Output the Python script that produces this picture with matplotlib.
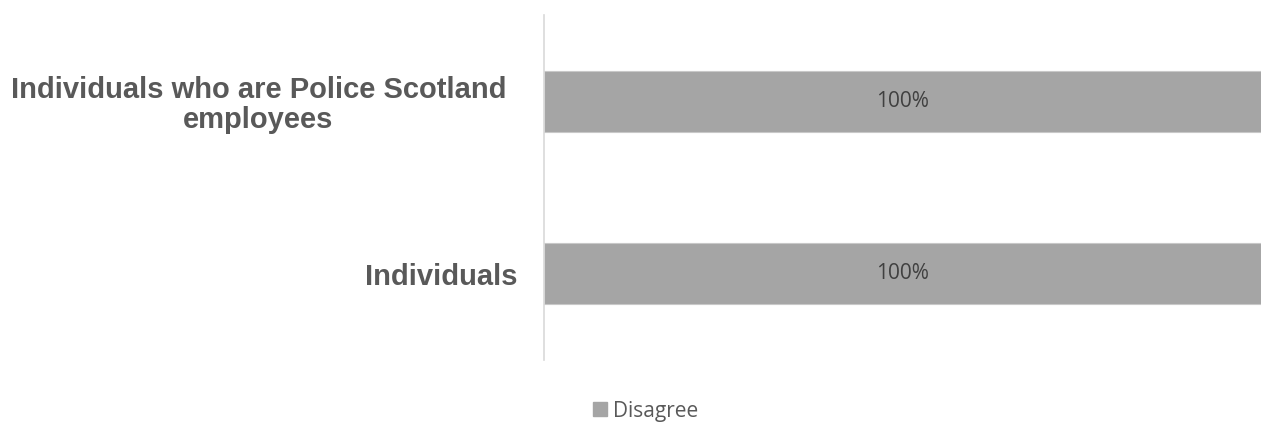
import matplotlib
matplotlib.use("Agg")
import matplotlib.pyplot as plt
import matplotlib.transforms as mtransforms
from matplotlib.patches import Patch

categories = ["Individuals", "Individuals who are Police Scotland\nemployees"]
disagree = [100, 100]
series_name = "Disagree"

fig = plt.figure(figsize=(12.63, 4.23), dpi=100)
ax = fig.add_axes([543.5 / 1263, 1 - 360 / 423, (1261 - 543.5) / 1263, 345 / 423])

ypos = list(range(len(categories)))
bars = ax.barh(ypos, disagree, height=0.355, color="#A5A5A5", edgecolor="#C8C8C8", linewidth=0.8)
ax.set_xlim(0, 100)
ax.set_ylim(-0.5, len(categories) - 0.5)

for rect, v in zip(bars, disagree):
    ax.text(rect.get_x() + rect.get_width() / 2, rect.get_y() + rect.get_height() / 2,
            f"{v}%", ha="center", va="center", color="#404040", fontsize=15,
            family="Open Sans")

ax.set_yticks(ypos)
ax.set_yticklabels(categories, fontsize=21, fontweight="bold", color="#595959",
                   family="Liberation Sans", multialignment="center", linespacing=1.1)
ax.tick_params(axis="y", length=0, pad=19)
ax.tick_params(axis="x", bottom=False, labelbottom=False)
for s in ["top", "right", "bottom"]:
    ax.spines[s].set_visible(False)
ax.spines["left"].set_color("#D9D9D9")
ax.spines["left"].set_linewidth(1.2)

# shift the wrapped label slightly left like the original
lbl = ax.get_yticklabels()[1]
lbl.set_transform(lbl.get_transform() + mtransforms.ScaledTranslation(-11 / 100, 0, fig.dpi_scale_trans))

handles = [Patch(facecolor="#A5A5A5", edgecolor="#A5A5A5", label=series_name)]
fig.legend(handles=handles, loc="center", bbox_to_anchor=(646 / 1263, 1 - 411 / 423),
           frameon=False, prop={"family": "Open Sans", "size": 15},
           labelcolor="#595959", handlelength=0.65, handleheight=0.65, handletextpad=0.3)

fig.savefig("out.png", dpi=100)
